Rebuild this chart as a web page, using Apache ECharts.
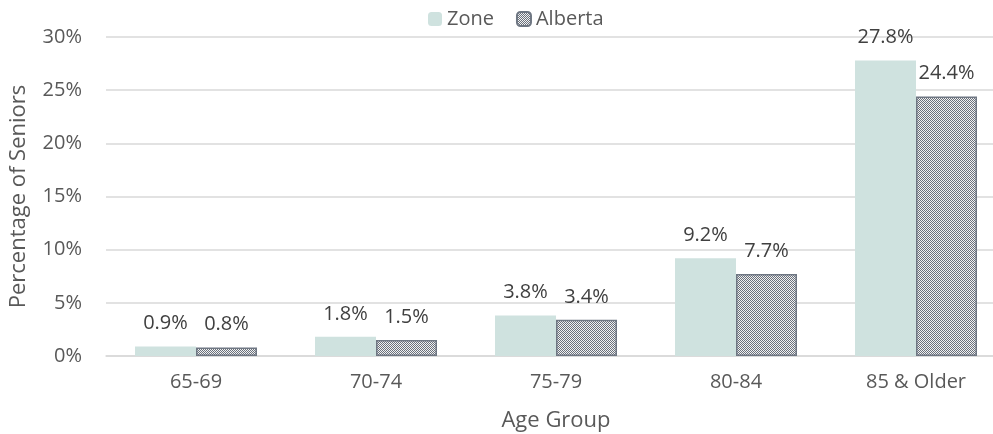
<!DOCTYPE html>
<html>
<head>
<meta charset="utf-8">
<script src="https://cdn.jsdelivr.net/npm/echarts@6/dist/echarts.min.js"></script>
<style>
  html, body { margin: 0; padding: 0; background: #fff; overflow: hidden; }
  #chart { width: 993px; height: 434px; }
</style>
</head>
<body>
<div id="chart"></div>
<script>
  const categories = ['65-69', '70-74', '75-79', '80-84', '85 & Older'];
  const zoneValues = [0.9, 1.8, 3.8, 9.2, 27.8];
  const albertaValues = [0.8, 1.5, 3.4, 7.7, 24.4];

  // checkered fill for the Alberta bars
  const makeChecker = () => {
    const c = document.createElement('canvas');
    c.width = 2; c.height = 2;
    const ctx = c.getContext('2d');
    ctx.fillStyle = '#f2f2f2';
    ctx.fillRect(0, 0, 2, 2);
    ctx.fillStyle = '#6a717c';
    ctx.fillRect(0, 0, 1, 1);
    ctx.fillRect(1, 1, 1, 1);
    return c;
  };

  const font = '"Open Sans", "Noto Sans", sans-serif';
  const myChart = echarts.init(document.getElementById('chart'));
  const option = {
    animation: false,
    textStyle: { fontFamily: font },
    legend: {
      top: 4,
      left: 423,
      itemWidth: 14,
      itemHeight: 14,
      itemGap: 22,
      textStyle: { fontSize: 20, color: '#595959', fontFamily: font },
      data: ['Zone', 'Alberta']
    },
    grid: { left: 106, top: 37, width: 900, height: 319, outerBoundsMode: 'none' },
    xAxis: {
      type: 'category',
      data: categories,
      axisTick: { show: false },
      axisLine: { lineStyle: { color: '#d9d9d9', width: 1.5 } },
      axisLabel: { fontSize: 20, color: '#595959', margin: 16, fontFamily: font },
      name: 'Age Group',
      nameLocation: 'middle',
      nameGap: 54,
      nameTextStyle: { fontSize: 22, color: '#595959', fontFamily: font }
    },
    yAxis: {
      type: 'value',
      min: 0,
      max: 30,
      interval: 5,
      axisLine: { show: false },
      axisTick: { show: false },
      splitLine: { lineStyle: { color: '#d9d9d9', width: 1.5 } },
      axisLabel: { fontSize: 20, color: '#595959', margin: 24, formatter: '{value}%', fontFamily: font },
      name: 'Percentage of Seniors',
      nameLocation: 'middle',
      nameGap: 76,
      nameTextStyle: { fontSize: 22, color: '#595959', fontFamily: font }
    },
    series: [
      {
        name: 'Zone',
        type: 'bar',
        data: zoneValues,
        barWidth: 61,
        barGap: '0%',
        itemStyle: { color: '#cfe2df' },
        label: {
          show: true, position: 'top', distance: 13,
          fontSize: 20, color: '#404040', fontFamily: font,
          formatter: p => p.value.toFixed(1) + '%'
        }
      },
      {
        name: 'Alberta',
        type: 'bar',
        data: albertaValues,
        barWidth: 61,
        itemStyle: {
          color: { image: makeChecker(), repeat: 'repeat' },
          borderColor: '#6f7783',
          borderWidth: 1.5
        },
        label: {
          show: true, position: 'top', distance: 13,
          fontSize: 20, color: '#404040', fontFamily: font,
          formatter: p => p.value.toFixed(1) + '%'
        }
      }
    ]
  };
  myChart.setOption(option);
</script>
</body>
</html>
